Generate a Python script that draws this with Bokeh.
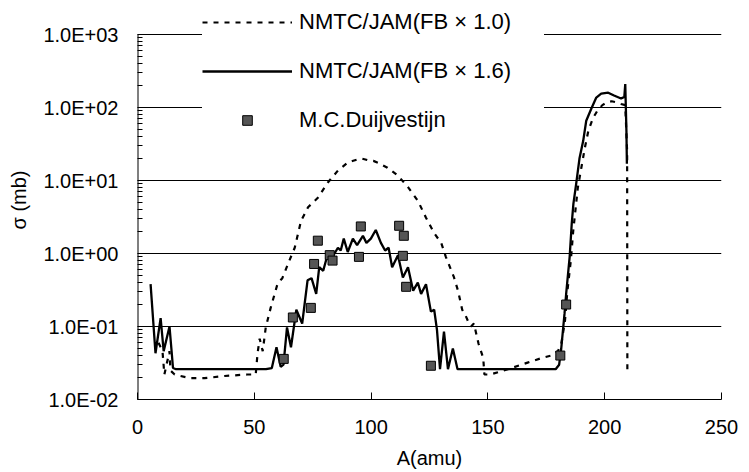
from bokeh.plotting import figure
from bokeh.models import FixedTicker, Legend, LegendItem, ColumnDataSource
from bokeh.embed import file_html
from bokeh.resources import INLINE

# ---- data ----
# NMTC/JAM (FB x 1.0) - dashed curve
fb10_A = [9.0, 10.7, 11.5, 12.8, 13.7, 14.1, 15.9, 18.4, 22.7, 28.7, 37.3, 47.0, 50.6,
          51.4, 52.3, 53.6, 54.9, 57.0, 60.0, 62.0, 65.0, 67.3, 70.0, 73.0, 77.2, 81.5,
          85.8, 90.0, 92.0, 94.3, 96.0, 98.6, 101.0, 103.0, 107.0, 111.5, 115.8, 120.0,
          123.5, 127.0, 130.0, 132.0, 134.2, 135.5, 137.2, 139.0, 140.5, 141.4, 142.8,
          144.0, 146.0, 148.0, 148.5, 151.0, 158.6, 167.0, 173.0, 177.0, 180.0, 181.5,
          183.0, 184.0, 185.5, 186.5, 187.5, 188.5, 190.0, 191.5, 193.0, 195.0, 197.0,
          199.0, 201.0, 203.0, 205.0, 207.0, 208.8, 209.6, 209.7]
fb10_s = [0.06, 0.046, 0.022, 0.034, 0.046, 0.025, 0.022, 0.021, 0.0196, 0.0196, 0.021,
          0.022, 0.022, 0.043, 0.068, 0.046, 0.097, 0.18, 0.39, 0.46, 0.8, 1.2, 2.8, 4.3,
          5.8, 9.4, 13.7, 17.6, 18.5, 19.5, 20.0, 19.0, 18.6, 17.5, 15.0, 11.7, 8.1, 5.3,
          3.1, 1.9, 1.4, 0.9, 0.6, 0.47, 0.31, 0.17, 0.14, 0.12, 0.10, 0.11, 0.058, 0.037,
          0.022, 0.022, 0.026, 0.032, 0.037, 0.040, 0.046, 0.06, 0.12, 0.3, 0.8, 2.0, 4.0,
          8.0, 15.0, 28.0, 48.0, 72.0, 92.0, 108.0, 118.0, 122.0, 118.0, 112.0, 108.0,
          25.0, 0.025]

# NMTC/JAM (FB x 1.6) - solid curve
fb16_A = [5.6, 7.7, 9.9, 11.2, 13.7, 14.5, 15.2, 16.5, 55.0, 57.5, 59.5, 61.3, 62.5,
          64.0, 65.7, 68.0, 70.5, 72.8, 74.5, 76.5, 77.8, 79.5, 81.5, 83.0, 85.8, 87.0,
          88.3, 90.0, 92.2, 94.0, 96.5, 98.0, 99.9, 102.0, 104.2, 106.0, 107.5, 109.0,
          111.5, 113.6, 115.8, 118.0, 120.0, 121.4, 123.5, 125.6, 127.0, 128.2, 129.5,
          131.2, 132.9, 135.0, 137.0, 179.0, 180.5, 181.4, 182.8, 183.5, 185.0, 185.9,
          186.6, 187.8, 189.2, 190.8, 192.1, 194.3, 196.4, 198.5, 201.5, 204.0, 207.0,
          208.4, 208.8, 209.3, 209.5]
fb16_s = [0.38, 0.043, 0.13, 0.046, 0.10, 0.05, 0.027, 0.026, 0.026, 0.027, 0.052, 0.028,
          0.03, 0.097, 0.052, 0.17, 0.11, 0.43, 0.46, 0.28, 0.65, 0.58, 1.0, 0.85, 1.2,
          1.1, 1.6, 1.05, 1.6, 1.3, 1.75, 1.4, 1.6, 2.1, 1.4, 1.1, 1.2, 0.65, 0.95, 0.47,
          0.65, 0.31, 0.40, 0.28, 0.38, 0.16, 0.17, 0.09, 0.026, 0.085, 0.026, 0.05, 0.026,
          0.026, 0.03, 0.05, 0.15, 0.28, 0.9, 2.6, 4.8, 9.1, 20.0, 35.0, 66.0, 97.0, 137.0,
          155.0, 160.0, 146.0, 133.0, 140.0, 210.0, 48.0, 17.0]

# M.C.Duijvestijn - measured points
exp_A = [62.6, 66.5, 74.2, 75.6, 77.2, 82.3, 83.5, 94.8, 95.6, 112.0, 114.0, 113.6,
         115.0, 125.6, 181.0, 183.5]
exp_s = [0.036, 0.133, 0.18, 0.72, 1.5, 0.95, 0.8, 0.9, 2.35, 2.4, 1.75, 0.93,
         0.35, 0.029, 0.04, 0.2]

x_ticks = [0, 50, 100, 150, 200, 250]
y_ticks = [0.01, 0.1, 1.0, 10.0, 100.0, 1000.0]
y_tick_labels = ["1.0E-02", "1.0E-01", "1.0E+00", "1.0E+01", "1.0E+02", "1.0E+03"]

series_labels = ["NMTC/JAM(FB × 1.0)", "NMTC/JAM(FB × 1.6)", "M.C.Duijvestijn"]
x_title = "A(amu)"
y_title = "σ (mb)"

FONT = "Liberation Sans"

# frame extends above 1E+03 so the legend (which sits partly above the axis top) is not clipped
Y_TOP = 2930.0

p = figure(width=749, height=472, y_axis_type="log",
           x_range=(0, 250), y_range=(0.01, Y_TOP),
           output_backend="svg", toolbar_location=None,
           min_border_left=137, min_border_right=28,
           min_border_top=0, min_border_bottom=73)
p.outline_line_color = None
p.background_fill_color = "white"
p.border_fill_color = "white"

minor = [m * t for t in y_ticks[:-1] for m in range(2, 10)]
p.yaxis.ticker = FixedTicker(ticks=y_ticks, minor_ticks=minor)
p.yaxis.major_label_overrides = dict(zip(y_ticks, y_tick_labels))
p.xaxis.ticker = FixedTicker(ticks=x_ticks)

for ax in (p.xaxis[0], p.yaxis[0]):
    ax.axis_line_color = "black"
    ax.axis_line_width = 1
    ax.major_tick_line_color = "black"
    ax.major_tick_out = 0
    ax.major_label_text_font = FONT
    ax.major_label_text_font_size = "20px"
    ax.major_label_text_color = "black"
    ax.axis_label_text_font = FONT
    ax.axis_label_text_font_size = "20px"
    ax.axis_label_text_font_style = "normal"
    ax.axis_label_text_color = "black"

p.xaxis.axis_label = x_title
p.yaxis.axis_label = y_title
p.xaxis.major_tick_in = 7
p.xaxis.minor_tick_line_color = None
p.xaxis.major_label_standoff = 20
p.xaxis.axis_label_standoff = 10
p.yaxis.axis_line_color = None   # drawn below only between 1E-02 and 1E+03
p.yaxis.major_tick_in = 8
p.yaxis.minor_tick_in = 5
p.yaxis.minor_tick_out = 0
p.yaxis.minor_tick_line_color = "black"
p.yaxis.major_label_standoff = 19
p.yaxis.axis_label_standoff = 10

p.xgrid.grid_line_color = None
p.ygrid.grid_line_color = "black"
p.ygrid.grid_line_width = 1

# left axis line from the lowest to the highest tick
p.segment(x0=[x_ticks[0]], y0=[y_ticks[0]], x1=[x_ticks[0]], y1=[y_ticks[-1]],
          line_color="black", line_width=2)

src10 = ColumnDataSource(dict(A=fb10_A, s=fb10_s))
src16 = ColumnDataSource(dict(A=fb16_A, s=fb16_s))
srce = ColumnDataSource(dict(A=exp_A, s=exp_s))

r10 = p.line("A", "s", source=src10, line_color="black", line_width=2.2, line_dash="5 6")
r16 = p.line("A", "s", source=src16, line_color="black", line_width=2.3)
re = p.scatter("A", "s", source=srce, marker="square", size=9,
               fill_color="#555555", line_color="black", line_width=1)

legend = Legend(items=[LegendItem(label=series_labels[0], renderers=[r10]),
                       LegendItem(label=series_labels[1], renderers=[r16]),
                       LegendItem(label=series_labels[2], renderers=[re])],
                location=(65, 266), glyph_width=90, glyph_height=24,
                label_standoff=7, spacing=23, padding=8, margin=0,
                label_width=245,
                label_text_font=FONT, label_text_font_size="22px",
                label_text_color="black",
                border_line_color=None, background_fill_color="white",
                background_fill_alpha=1.0)
p.add_layout(legend, "center")

open("out.html", "w").write(file_html(p, INLINE))
